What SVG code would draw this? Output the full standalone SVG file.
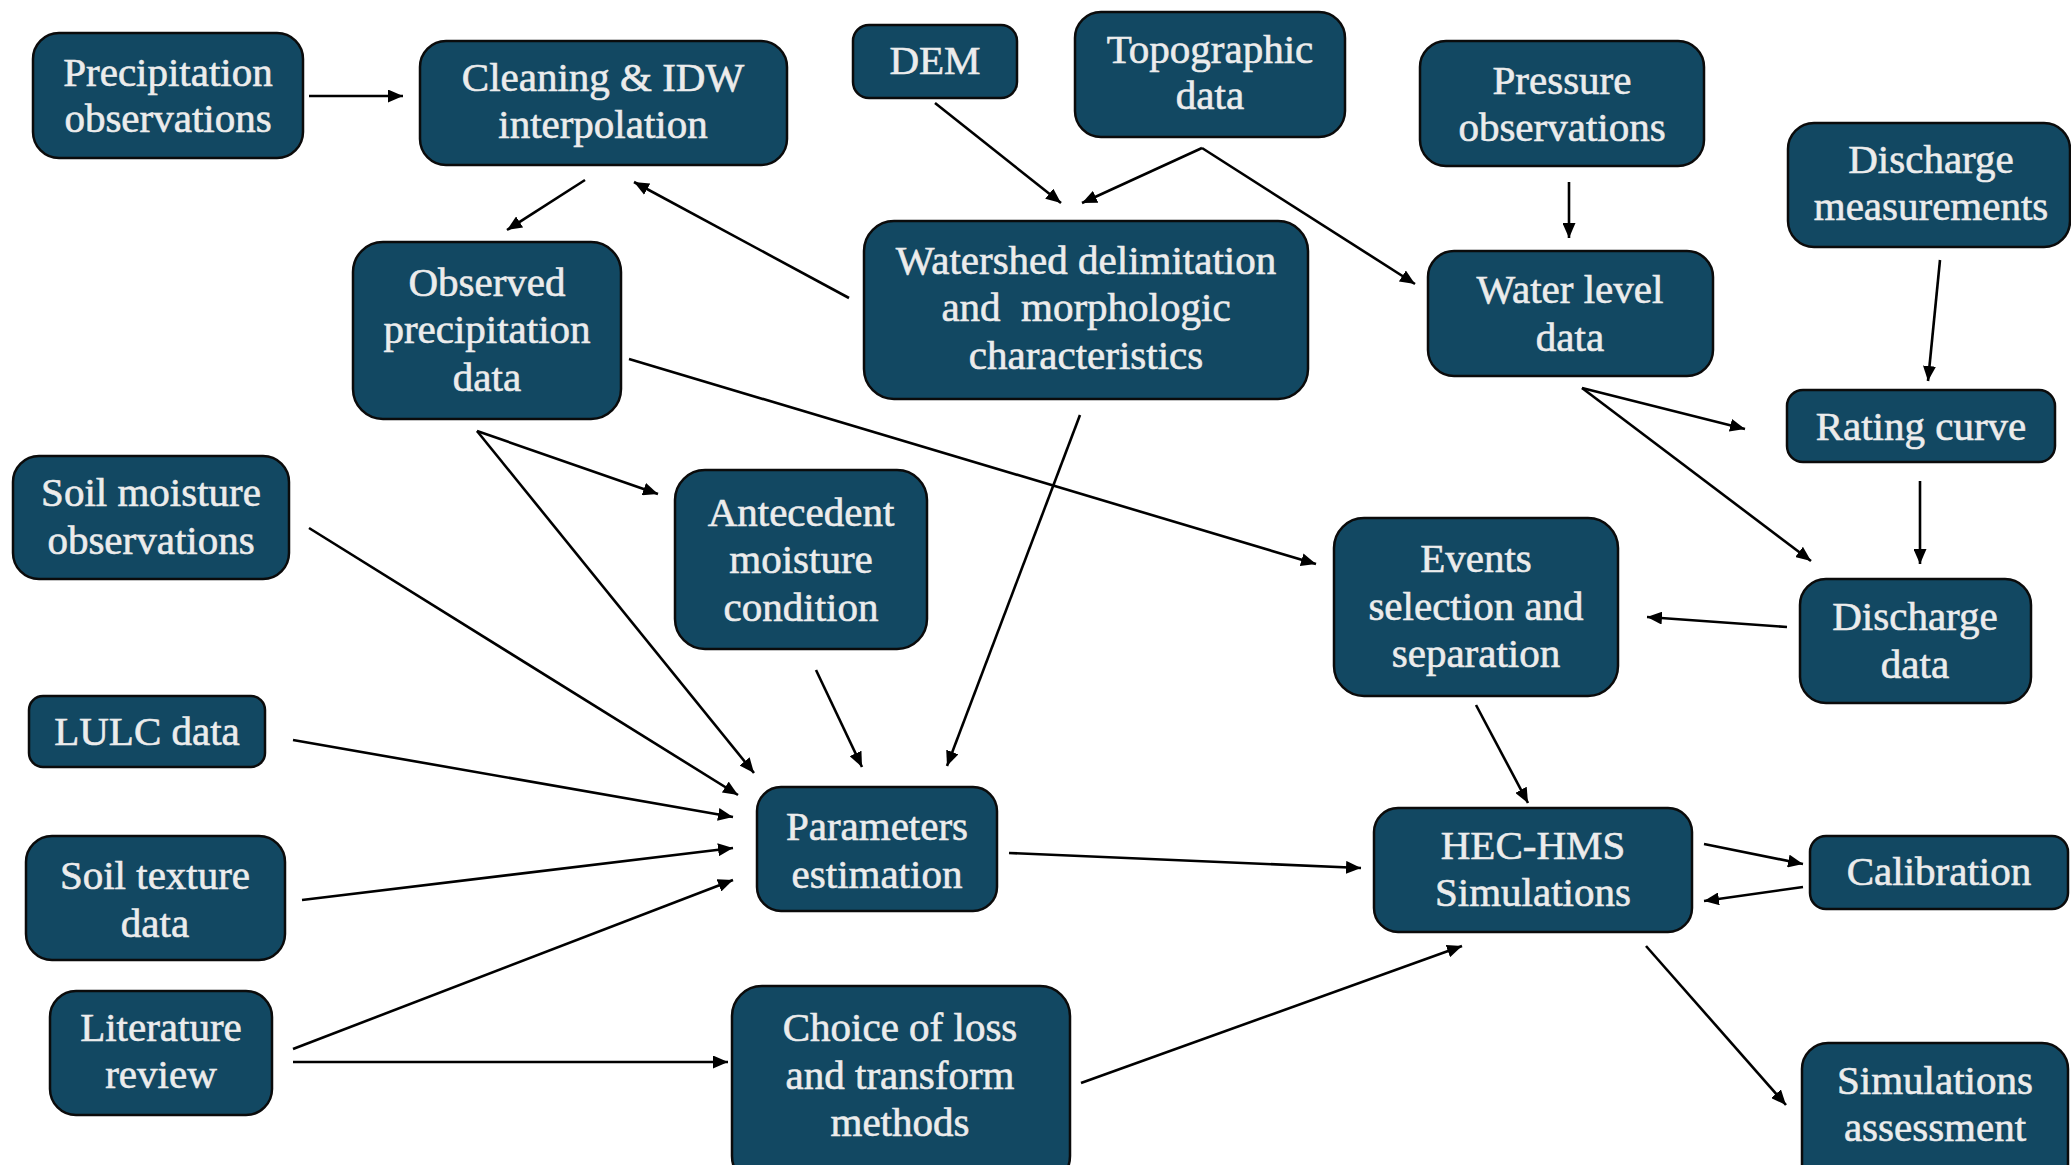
<svg xmlns="http://www.w3.org/2000/svg" width="2071" height="1165" viewBox="0 0 2071 1165">
<style>
.n{fill:#124862;stroke:#0b0b0b;stroke-width:2.5}
.t{font-family:"Liberation Serif","Times New Roman",serif;font-size:41px;fill:#ececec;stroke:#ececec;stroke-width:0.6;text-anchor:middle}
.c line{stroke:#000;stroke-width:2.6;marker-end:url(#ah)}
</style>
<defs>
<marker id="ah" markerUnits="userSpaceOnUse" markerWidth="16" markerHeight="13" refX="15" refY="6.5" orient="auto">
<path d="M0,0 L15,6.5 L0,13 Z" fill="#000"/>
</marker>
</defs>
<rect width="2071" height="1165" fill="#fff"/>
<g id="nodes">
<g id="precip-obs"><rect class="n" x="33" y="33" width="270" height="125" rx="26"/><text class="t" x="168" y="86">Precipitation</text><text class="t" x="168" y="132">observations</text></g>
<g id="cleaning"><rect class="n" x="420" y="41" width="367" height="124" rx="26"/><text class="t" x="603" y="91">Cleaning &amp; IDW</text><text class="t" x="603" y="138">interpolation</text></g>
<g id="dem"><rect class="n" x="853" y="25" width="164" height="73" rx="16"/><text class="t" x="935" y="74">DEM</text></g>
<g id="topo"><rect class="n" x="1075" y="12" width="270" height="125" rx="26"/><text class="t" x="1210" y="63">Topographic</text><text class="t" x="1210" y="109">data</text></g>
<g id="pressure"><rect class="n" x="1420" y="41" width="284" height="125" rx="26"/><text class="t" x="1562" y="94">Pressure</text><text class="t" x="1562" y="141">observations</text></g>
<g id="discharge-meas"><rect class="n" x="1788" y="123" width="282" height="124" rx="26"/><text class="t" x="1931" y="173">Discharge</text><text class="t" x="1931" y="220">measurements</text></g>
<g id="obs-precip"><rect class="n" x="353" y="242" width="268" height="177" rx="30"/><text class="t" x="487" y="296">Observed</text><text class="t" x="487" y="343">precipitation</text><text class="t" x="487" y="391">data</text></g>
<g id="watershed"><rect class="n" x="864" y="221" width="444" height="178" rx="30"/><text class="t" x="1086" y="274">Watershed delimitation</text><text class="t" x="1086" y="321" xml:space="preserve">and  morphologic</text><text class="t" x="1086" y="369">characteristics</text></g>
<g id="water-level"><rect class="n" x="1428" y="251" width="285" height="125" rx="26"/><text class="t" x="1570" y="303">Water level</text><text class="t" x="1570" y="351">data</text></g>
<g id="rating"><rect class="n" x="1787" y="390" width="268" height="72" rx="16"/><text class="t" x="1921" y="440">Rating curve</text></g>
<g id="soil-moist"><rect class="n" x="13" y="456" width="276" height="123" rx="26"/><text class="t" x="151" y="506">Soil moisture</text><text class="t" x="151" y="554">observations</text></g>
<g id="antecedent"><rect class="n" x="675" y="470" width="252" height="179" rx="30"/><text class="t" x="801" y="526">Antecedent</text><text class="t" x="801" y="573">moisture</text><text class="t" x="801" y="621">condition</text></g>
<g id="events"><rect class="n" x="1334" y="518" width="284" height="178" rx="30"/><text class="t" x="1476" y="572">Events</text><text class="t" x="1476" y="620">selection and</text><text class="t" x="1476" y="667">separation</text></g>
<g id="discharge-data"><rect class="n" x="1800" y="579" width="231" height="124" rx="26"/><text class="t" x="1915" y="630">Discharge</text><text class="t" x="1915" y="678">data</text></g>
<g id="lulc"><rect class="n" x="29" y="696" width="236" height="71" rx="14"/><text class="t" x="147" y="745">LULC data</text></g>
<g id="params"><rect class="n" x="757" y="787" width="240" height="124" rx="24"/><text class="t" x="877" y="840">Parameters</text><text class="t" x="877" y="888">estimation</text></g>
<g id="hec"><rect class="n" x="1374" y="808" width="318" height="124" rx="24"/><text class="t" x="1533" y="859">HEC-HMS</text><text class="t" x="1533" y="906">Simulations</text></g>
<g id="calibration"><rect class="n" x="1810" y="836" width="258" height="73" rx="16"/><text class="t" x="1939" y="885">Calibration</text></g>
<g id="soil-texture"><rect class="n" x="26" y="836" width="259" height="124" rx="26"/><text class="t" x="155" y="889">Soil texture</text><text class="t" x="155" y="937">data</text></g>
<g id="literature"><rect class="n" x="50" y="991" width="222" height="124" rx="26"/><text class="t" x="161" y="1041">Literature</text><text class="t" x="161" y="1088">review</text></g>
<g id="choice"><rect class="n" x="732" y="986" width="338" height="200" rx="30"/><text class="t" x="900" y="1041">Choice of loss</text><text class="t" x="900" y="1089">and transform</text><text class="t" x="900" y="1136">methods</text></g>
<g id="sim-assess"><rect class="n" x="1802" y="1043" width="266" height="150" rx="26"/><text class="t" x="1935" y="1094">Simulations</text><text class="t" x="1935" y="1141">assessment</text></g>
</g>
<g id="connectors" class="c">
<line x1="309" y1="96" x2="403" y2="96"/>
<line x1="585" y1="180" x2="507" y2="230"/>
<line x1="849" y1="298" x2="634" y2="182"/>
<line x1="935" y1="103" x2="1061" y2="203"/>
<line x1="1202" y1="148" x2="1082" y2="203"/>
<line x1="1202" y1="148" x2="1415" y2="284"/>
<line x1="1569" y1="182" x2="1569" y2="238"/>
<line x1="1940" y1="260" x2="1928" y2="381"/>
<line x1="1582" y1="388" x2="1745" y2="429"/>
<line x1="1582" y1="388" x2="1811" y2="561"/>
<line x1="1920" y1="481" x2="1920" y2="564"/>
<line x1="1787" y1="627" x2="1647" y2="617"/>
<line x1="629" y1="359" x2="1316" y2="564"/>
<line x1="477" y1="431" x2="658" y2="494"/>
<line x1="477" y1="431" x2="754" y2="773"/>
<line x1="1080" y1="415" x2="947" y2="766"/>
<line x1="816" y1="670" x2="862" y2="767"/>
<line x1="309" y1="528" x2="738" y2="795"/>
<line x1="293" y1="740" x2="733" y2="817"/>
<line x1="302" y1="900" x2="733" y2="848"/>
<line x1="293" y1="1049" x2="733" y2="880"/>
<line x1="293" y1="1062" x2="728" y2="1062"/>
<line x1="1009" y1="853" x2="1361" y2="868"/>
<line x1="1476" y1="705" x2="1528" y2="803"/>
<line x1="1081" y1="1083" x2="1462" y2="946"/>
<line x1="1704" y1="844" x2="1803" y2="864"/>
<line x1="1803" y1="887" x2="1704" y2="901"/>
<line x1="1646" y1="946" x2="1786" y2="1105"/>
</g>
</svg>
